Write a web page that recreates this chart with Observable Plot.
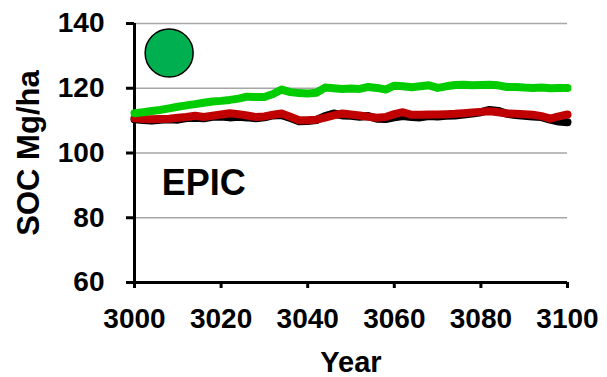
<!DOCTYPE html>
<html>
<head>
<meta charset="utf-8">
<script src="https://cdn.jsdelivr.net/npm/d3@7"></script>
<script src="https://cdn.jsdelivr.net/npm/@observablehq/plot@0.6"></script>
<style>
  html, body { margin: 0; padding: 0; background: #fff; }
</style>
</head>
<body>
<div id="chart"></div>
<script>
const years = [3000,3002,3004,3006,3008,3010,3012,3014,3016,3018,3020,3022,3024,3026,3028,3030,3032,3034,3036,3038,3040,3042,3044,3046,3048,3050,3052,3054,3056,3058,3060,3062,3064,3066,3068,3070,3072,3074,3076,3078,3080,3082,3084,3086,3088,3090,3092,3094,3096,3098,3100];
const greenSOC = [112.3,112.6,113.0,113.3,113.8,114.3,114.7,115.1,115.5,115.9,116.1,116.4,116.8,117.4,117.3,117.3,118.2,119.6,118.8,118.5,118.4,118.6,120.2,120.0,119.8,119.9,119.8,120.4,120.1,119.6,120.8,120.6,120.3,120.6,120.9,120.1,120.6,121.0,121.1,120.9,121.0,121.1,120.9,120.4,120.4,120.2,120.1,120.2,120.0,120.1,120.1];
const redSOC = [110.7,110.5,110.4,110.5,110.6,110.9,111.1,111.5,111.1,111.5,111.9,112.3,112.0,111.6,111.1,111.3,111.8,112.2,111.2,110.1,110.1,110.3,110.9,111.6,112.2,111.9,111.6,111.2,110.9,111.1,112.0,112.6,111.8,111.8,111.9,111.9,112.0,112.1,112.3,112.5,112.7,112.9,112.6,112.2,112.1,112.0,111.8,111.4,110.6,111.3,111.9];
const blackSOC = [110.4,110.2,110.0,110.3,110.4,110.3,110.8,110.9,110.7,111.2,111.3,111.0,111.2,111.0,110.7,111.0,111.6,111.7,110.8,109.8,109.9,110.2,111.4,112.2,111.6,111.5,111.2,111.4,110.6,110.5,111.0,111.4,111.1,111.0,111.4,111.3,111.5,111.6,111.9,112.2,112.6,113.3,113.0,112.1,111.7,111.5,111.3,111.1,110.3,109.7,109.5];
const xTicks = [3000,3020,3040,3060,3080,3100];
const yTicks = [60,80,100,120,140];
const gridTicks = [80,100,120,140];
const marker = [{year: 3008, soc: 130.9}];
const panelLabel = [{year: 3006.3, soc: 90.7, text: "EPIC"}];
const xLabel = "Year";
const yLabel = "SOC Mg/ha";

const black = years.map((y, i) => ({year: y, soc: blackSOC[i]}));
const red = years.map((y, i) => ({year: y, soc: redSOC[i]}));
const green = years.map((y, i) => ({year: y, soc: greenSOC[i]}));

const chart = Plot.plot({
  width: 607,
  height: 377,
  marginLeft: 134,
  marginRight: 40,
  marginTop: 23,
  marginBottom: 95,
  x: {domain: [3000, 3100]},
  y: {domain: [60, 140]},
  style: {fontFamily: "'Liberation Sans', Arial, sans-serif", fontWeight: "bold", background: "white", color: "black"},
  marks: [
    Plot.gridY(gridTicks, {stroke: "#a6a6a6", strokeOpacity: 1, strokeWidth: 1.5}),
    Plot.axisX({ticks: xTicks, tickFormat: d => `${d}`, tickSize: 6, tickPadding: 20, fontSize: 28, fontWeight: "bold", strokeWidth: 3, label: null}),
    Plot.axisY({ticks: yTicks, tickFormat: d => `${d}`, tickSize: 8, tickPadding: 22, fontSize: 28, fontWeight: "bold", strokeWidth: 3, label: null}),
    Plot.ruleX([3000], {stroke: "black", strokeWidth: 3}),
    Plot.ruleY([60], {stroke: "black", strokeWidth: 3}),
    Plot.line(black, {x: "year", y: "soc", stroke: "black", strokeWidth: 8, strokeLinejoin: "round", strokeLinecap: "round"}),
    Plot.line(red, {x: "year", y: "soc", stroke: "#c00000", strokeWidth: 8, strokeLinejoin: "round", strokeLinecap: "round"}),
    Plot.line(green, {x: "year", y: "soc", stroke: "#00cc00", strokeWidth: 8, strokeLinejoin: "round", strokeLinecap: "round"}),
    Plot.dot(marker, {x: "year", y: "soc", r: 24, fill: "#00b050", stroke: "black", strokeWidth: 1.5}),
    Plot.text(panelLabel, {x: "year", y: "soc", text: "text", textAnchor: "start", fontSize: 36, fontWeight: "bold", fill: "black"}),
    Plot.text([xLabel], {frameAnchor: "bottom", textAnchor: "middle", lineAnchor: "middle", dy: 80, fontSize: 29, fontWeight: "bold", fill: "black"}),
    Plot.text([yLabel], {frameAnchor: "left", textAnchor: "middle", lineAnchor: "middle", dx: -105, rotate: -90, fontSize: 31, fontWeight: "bold", fill: "black"})
  ]
});
document.getElementById("chart").appendChild(chart);
</script>
</body>
</html>
